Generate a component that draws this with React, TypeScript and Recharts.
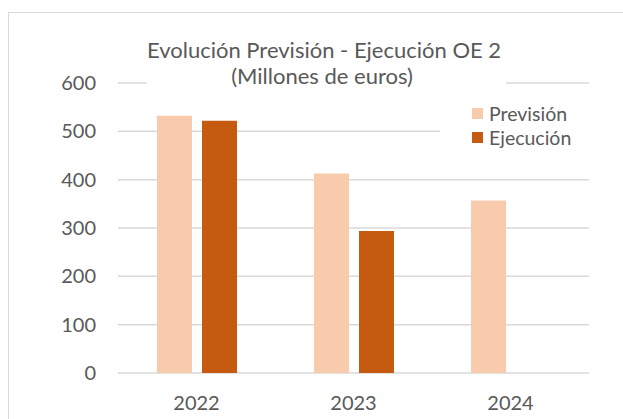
import { BarChart, Bar, XAxis, YAxis, CartesianGrid } from "recharts"

const years = ["2022", "2023", "2024"]
const prevision = [532, 413, 357]
const ejecucion: (number | null)[] = [522, 294, null]
const yTicks = [0, 100, 200, 300, 400, 500, 600]

const titleLines = ["Evolución Previsión - Ejecución OE 2", "(Millones de euros)"]

const SERIES = [
  { key: "prevision", label: "Previsión", color: "#F8CBAD" },
  { key: "ejecucion", label: "Ejecución", color: "#C55A11" },
]

const FONT = "Lato, 'Noto Sans', sans-serif"
const TEXT = "#595959"
const GRID = "#D9D9D9"

const data = years.map((year, i) => ({
  year,
  prevision: prevision[i],
  ejecucion: ejecucion[i],
}))

function LegendBox() {
  return (
    <div
      style={{
        position: "absolute",
        left: 440,
        top: 96,
        background: "#fff",
        width: 150,
        height: 54,
        boxSizing: "border-box",
        paddingLeft: 32,
        paddingTop: 5,
      }}
    >
      {SERIES.map((s) => (
        <div key={s.key} style={{ display: "flex", alignItems: "center", height: 24 }}>
          <span style={{ width: 11, height: 11, background: s.color, marginRight: 6 }} />
          <span style={{ color: TEXT, fontSize: 19.5, fontFamily: FONT }}>{s.label}</span>
        </div>
      ))}
    </div>
  )
}

export default function App() {
  return (
    <div
      style={{
        position: "absolute",
        left: 0,
        top: 0,
        width: 623,
        height: 419,
        overflow: "hidden",
        background: "#fff",
        fontFamily: FONT,
      }}
    >
      {/* outer frame, only left/top visible in the crop */}
      <div
        style={{
          position: "absolute",
          left: 8,
          top: 12,
          width: 640,
          height: 440,
          border: `1px solid ${GRID}`,
        }}
      />
      <BarChart
        width={623}
        height={419}
        data={data}
        margin={{ top: 83, right: 34, bottom: 0, left: 0 }}
        barSize={35}
        barGap={10}
      >
        <CartesianGrid stroke={GRID} strokeWidth={1.5} vertical={false} />
        <XAxis
          dataKey="year"
          height={46}
          axisLine={false}
          tickLine={false}
          tickSize={0}
          tickMargin={23}
          tick={{ fill: TEXT, fontSize: 20, fontFamily: FONT }}
        />
        <YAxis
          width={118}
          domain={[0, 600]}
          ticks={yTicks}
          axisLine={false}
          tickLine={false}
          tickSize={0}
          tickMargin={22}
          tick={{ fill: TEXT, fontSize: 20, fontFamily: FONT }}
        />
        {SERIES.map((s) => (
          <Bar key={s.key} dataKey={s.key} name={s.label} fill={s.color} isAnimationActive={false} />
        ))}
      </BarChart>
      <LegendBox />
      <div
        style={{
          position: "absolute",
          left: 147,
          top: 36,
          width: 359,
          height: 54,
          background: "#fff",
        }}
      />
      {titleLines.map((line, i) => (
        <div
          key={i}
          style={{
            position: "absolute",
            left: 147,
            width: 350,
            top: i === 0 ? 39 : 65,
            lineHeight: "22px",
            fontSize: 22,
            textAlign: "center",
            color: TEXT,
            whiteSpace: "nowrap",
          }}
        >
          {line}
        </div>
      ))}
    </div>
  )
}
